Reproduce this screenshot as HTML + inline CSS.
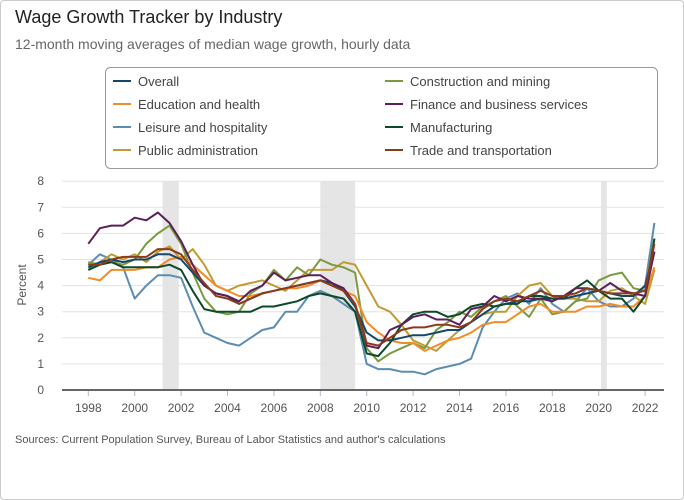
<!DOCTYPE html>
<html><head><meta charset="utf-8"><style>
body{margin:0;background:#fff;font-family:"Liberation Sans",Arial,sans-serif;}
#card{position:absolute;left:0;top:0;width:682px;height:498px;border:1px solid #ccc;border-radius:4px;}
.t{position:absolute;white-space:nowrap;}
</style></head><body>
<div id="card"></div>
<div class="t" style="left:15px;top:7px;font-size:18px;color:#222">Wage Growth Tracker by Industry</div>
<div class="t" style="left:15px;top:36px;font-size:14px;color:#666">12-month moving averages of median wage growth, hourly data</div>
<svg id="chart" width="684" height="500" style="position:absolute;left:0;top:0"></svg>
<div class="t" style="left:15px;top:434px;font-size:11px;color:#555">Sources: Current Population Survey, Bureau of Labor Statistics and author's calculations</div>
<script>
const years=[1998,1998.5,1999,1999.5,2000,2000.5,2001,2001.5,2002,2002.5,2003,2003.5,2004,2004.5,2005,2005.5,2006,2006.5,2007,2007.5,2008,2008.5,2009,2009.5,2010,2010.5,2011,2011.5,2012,2012.5,2013,2013.5,2014,2014.5,2015,2015.5,2016,2016.5,2017,2017.5,2018,2018.5,2019,2019.5,2020,2020.5,2021,2021.5,2022,2022.4];
const seriesNames=["Overall","Construction and mining","Education and health","Finance and business services","Leisure and hospitality","Manufacturing","Public administration","Trade and transportation"];
const overall=[4.7,4.9,5.0,4.9,5.0,5.0,5.2,5.2,5.0,4.5,4.0,3.7,3.6,3.3,3.5,3.7,3.8,3.9,4.0,4.1,4.2,4.1,3.8,3.2,2.2,1.9,1.9,2.0,2.1,2.1,2.2,2.3,2.3,2.6,2.9,3.2,3.3,3.4,3.4,3.5,3.5,3.5,3.6,3.7,3.8,3.7,3.6,3.6,4.0,5.3];
const construction=[4.9,4.8,4.9,4.8,5.0,5.6,6.0,6.3,5.6,4.5,3.5,3.0,2.9,3.0,3.7,4.0,4.6,4.2,4.7,4.4,5.0,4.8,4.7,4.5,1.6,1.1,1.4,1.6,1.8,1.6,2.3,2.6,3.0,2.8,3.2,3.4,3.6,3.2,2.8,3.5,2.9,3.0,3.4,3.5,4.2,4.4,4.5,3.9,3.8,5.8];
const education=[4.3,4.2,4.6,4.6,4.6,4.7,4.7,5.0,5.1,4.8,4.4,4.0,3.8,3.6,3.6,3.7,3.8,3.9,3.9,4.0,4.2,4.1,3.8,3.6,2.6,2.2,1.9,1.8,1.8,1.5,1.7,1.9,2.0,2.2,2.5,2.6,2.6,2.9,3.2,3.3,3.0,3.0,3.0,3.2,3.2,3.3,3.2,3.2,3.6,4.7];
const finance=[5.6,6.2,6.3,6.3,6.6,6.5,6.8,6.4,5.7,4.8,4.0,3.7,3.6,3.4,3.8,4.0,4.5,4.2,4.3,4.4,4.4,4.1,3.9,3.3,1.7,1.6,2.3,2.5,2.8,2.9,2.7,2.7,2.5,3.1,3.2,3.6,3.4,3.6,3.5,3.5,3.4,3.6,3.9,3.9,3.8,4.1,3.8,3.7,3.6,5.3];
const leisure=[4.8,5.2,5.0,4.7,3.5,4.0,4.4,4.4,4.3,3.2,2.2,2.0,1.8,1.7,2.0,2.3,2.4,3.0,3.0,3.6,3.8,3.6,3.3,3.0,1.0,0.8,0.8,0.7,0.7,0.6,0.8,0.9,1.0,1.2,2.4,3.0,3.5,3.7,3.3,3.9,3.3,3.0,3.4,3.9,3.4,3.2,3.2,3.5,4.0,6.4];
const manufacturing=[4.6,4.8,4.9,4.7,4.7,4.7,4.7,4.8,4.6,3.8,3.1,3.0,3.0,3.0,3.0,3.2,3.2,3.3,3.4,3.6,3.7,3.6,3.5,3.0,1.4,1.3,1.8,2.5,2.9,3.0,3.0,2.8,2.9,3.2,3.3,3.2,3.3,3.3,3.6,3.6,3.5,3.5,3.9,4.2,3.8,3.5,3.5,3.0,3.6,5.8];
const publicAdmin=[4.6,4.9,5.2,5.0,5.2,4.9,5.3,5.5,5.0,5.4,4.8,4.0,3.8,4.0,4.1,4.2,4.0,3.8,4.2,4.6,4.6,4.6,4.9,4.8,4.0,3.2,3.0,2.5,1.9,1.7,1.5,1.9,2.3,2.6,2.9,3.0,3.0,3.6,4.0,4.1,3.6,3.5,3.5,3.4,3.4,3.8,3.9,3.6,3.3,4.6];
const trade=[4.8,4.8,5.0,5.1,5.1,5.1,5.4,5.4,5.2,4.6,4.1,3.6,3.5,3.3,3.5,3.7,3.8,3.9,4.0,4.1,4.2,4.0,3.8,3.3,1.8,1.7,2.0,2.3,2.4,2.4,2.5,2.5,2.4,2.6,3.1,3.4,3.5,3.4,3.6,3.8,3.6,3.6,3.7,3.9,3.8,3.7,3.7,3.7,3.8,5.6];
const yTicks=[0,1,2,3,4,5,6,7,8];
const xTicks=[1998,2000,2002,2004,2006,2008,2010,2012,2014,2016,2018,2020,2022];
const recessions=[[2001.2,2001.9],[2008.0,2009.5],[2020.1,2020.35]];

const NS="http://www.w3.org/2000/svg",svg=document.getElementById('chart');
const X0=62,X1=664,Y0=390;
const xs=y=>88.3+(y-1998)*23.2, ys=v=>Y0-v*26.1;
function mk(t,a,p){const e=document.createElementNS(NS,t);for(const k in a)e.setAttribute(k,a[k]);(p||svg).appendChild(e);return e;}
recessions.forEach(r=>{const e=mk('rect',{x:xs(r[0]),y:ys(8),width:xs(r[1])-xs(r[0]),height:Y0-ys(8),fill:'#e5e5e5'});

});
yTicks.forEach(v=>{if(v>0){const g=mk('line',{x1:X0,x2:X1,y1:ys(v),y2:ys(v),stroke:'#e3e3e3','stroke-width':1});

}
const t=mk('text',{x:44,y:ys(v)+4,'text-anchor':'end','font-size':12,fill:'#555'});t.textContent=v;

});
xTicks.forEach(y=>{const l=mk('line',{x1:xs(y),x2:xs(y),y1:Y0,y2:Y0+6,stroke:'#aabbd6'});


const t=mk('text',{x:xs(y),y:Y0+22,'text-anchor':'middle','font-size':12,fill:'#555'});t.textContent=y;

});
const yt=mk('text',{x:0,y:0,transform:'translate(26,285) rotate(-90)','text-anchor':'middle','font-size':12,fill:'#555'});yt.textContent='Percent';


const data=[overall,construction,education,finance,leisure,manufacturing,publicAdmin,trade];
const colors=['#14476b','#7b9a3e','#f28c28','#5c1f5a','#5b8db3','#0d4a28','#c19a34','#8c3b1a'];
const order=[4,6,1,2,0,5,3,7];
order.forEach(i=>{const pts=data[i].map((v,j)=>xs(years[j]).toFixed(1)+','+ys(v).toFixed(1)).join(' ');
const p=mk('polyline',{points:pts,fill:'none',stroke:colors[i],'stroke-width':2,'stroke-linejoin':'round'});

});
const ax=mk('line',{x1:X0,x2:X1,y1:Y0,y2:Y0,stroke:'#666','stroke-width':2});


const lb=mk('rect',{x:105.5,y:67.5,width:552,height:101,rx:5,fill:'#fff',stroke:'#999'});


seriesNames.forEach((n,i)=>{const col=i%2,row=Math.floor(i/2);const lx=col?385:113,ly=81+row*23;
const g=mk('g',{});


mk('line',{x1:lx,x2:lx+18,y1:ly,y2:ly,stroke:colors[i],'stroke-width':2},g);
const t=mk('text',{x:lx+25,y:ly+5,'font-size':13,fill:'#444'},g);t.textContent=n;});
</script>
</body></html>
